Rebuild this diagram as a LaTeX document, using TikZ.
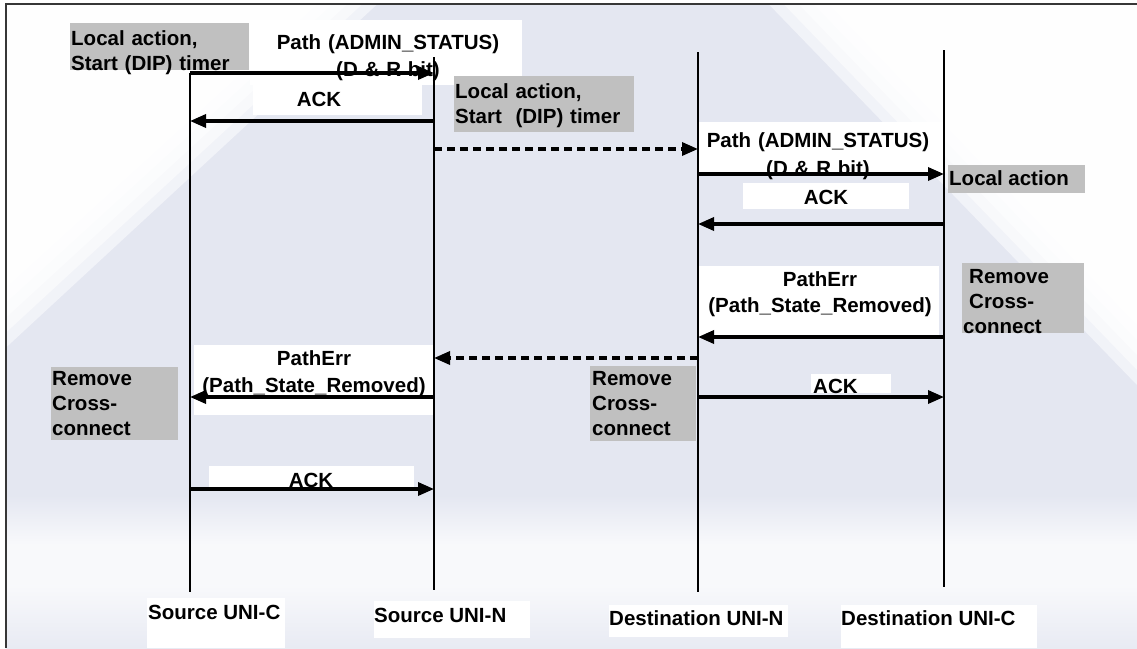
\documentclass[tikz,border=0pt]{standalone}
\usepackage{fontspec}
\setmainfont{Liberation Sans}
\usetikzlibrary{arrows.meta}
\definecolor{lav}{RGB}{228,231,241}
\definecolor{boxgray}{RGB}{192,192,192}
\definecolor{framegray}{RGB}{55,55,55}

\begin{document}
\begin{tikzpicture}[x=1pt,y=-1pt,
  lbl/.style={font=\bfseries\fontsize{20.5}{25}\selectfont, inner sep=0pt, text=black},
  graybox/.style={fill=boxgray, draw=none, inner sep=0pt, anchor=north west},
  whitebox/.style={fill=white, draw=none, inner sep=0pt, anchor=north west},
  lifeline/.style={line width=2pt, black},
  msg/.style={line width=3.3pt, black, -{Triangle[length=16pt,width=13pt]}},
  dmsg/.style={msg, dash pattern=on 8pt off 5pt},
  frameline/.style={line width=2pt, framegray},
]
\useasboundingbox (0,0) rectangle (1137,648);

% ---- background wash ----
\fill[white] (0,0) rectangle (1137,648);
\fill[lav] (5.5,3.5) rectangle (1137,648);
\foreach \d in {-30,-15,0,15,30}{
  \fill[white, opacity=0.5] (5.5,3.5) -- (348+\d,3.5) -- (5.5,318+\d) -- cycle;
  \fill[white, opacity=0.5] (798-\d,3.5) -- (1137,3.5) -- (1137,355+\d) -- cycle;
}
\shade[top color=lav, bottom color=white!75!lav] (5.5,495) rectangle (1137,545);
\fill[white!75!lav] (5.5,545) rectangle (1137,585);
\shade[top color=white!75!lav, bottom color=lav!85!white] (5.5,585) rectangle (1137,648);

% ---- frame ----
\draw[frameline] (1137,3.5) -- (5.5,3.5) -- (5.5,648);

% ---- label backgrounds ----
\node[whitebox, minimum width=272pt, minimum height=65pt] (wpath1) at (250,20) {};
\node[whitebox, minimum width=169pt, minimum height=31pt] (wack1) at (253,84) {};
\node[whitebox, minimum width=245pt, minimum height=52pt] (wpath2) at (698,122) {};
\node[whitebox, minimum width=166pt, minimum height=26pt] (wack2) at (743,183) {};
\node[whitebox, minimum width=241pt, minimum height=71pt] (werr1) at (698,266) {};
\node[whitebox, minimum width=239pt, minimum height=70pt] (werr2) at (194,345) {};
\node[whitebox, minimum width=80pt, minimum height=19pt] (wack3) at (811,374) {};
\node[whitebox, minimum width=205pt, minimum height=23pt] (wack4) at (209,466) {};

\node[whitebox, minimum width=138pt, minimum height=50pt] (wsc) at (147,598) {};
\node[whitebox, minimum width=156pt, minimum height=37pt] (wsn) at (374,601) {};
\node[whitebox, minimum width=179pt, minimum height=32pt] (wdn) at (609,605) {};
\node[whitebox, minimum width=196pt, minimum height=43pt] (wdc) at (841,605) {};

\node[graybox, minimum width=179pt, minimum height=47pt] (g1) at (70,23) {};
\node[graybox, minimum width=180pt, minimum height=56pt] (g2) at (454,76) {};
\node[graybox, minimum width=137pt, minimum height=28pt] (g3) at (948,165) {};
\node[graybox, minimum width=122pt, minimum height=70pt] (g4) at (962,263) {};
\node[graybox, minimum width=127pt, minimum height=73pt] (g5) at (51,367) {};
\node[graybox, minimum width=106pt, minimum height=75pt] (g6) at (590,366) {};

% ---- lifelines ----
\coordinate (scT) at (190,73);  \coordinate (scB) at (190,592);
\coordinate (snT) at (434,57);  \coordinate (snB) at (434,590);
\coordinate (dnT) at (698,52);  \coordinate (dnB) at (698,592);
\coordinate (dcT) at (944,50);  \coordinate (dcB) at (944,587);
\draw[lifeline] (scT) -- (scB);
\draw[lifeline] (snT) -- (snB);
\draw[lifeline] (dnT) -- (dnB);
\draw[lifeline] (dcT) -- (dcB);

% ---- texts ----
\node[lbl, anchor=base west, text width=178pt, align=left] (t1) at (71,45)
  {Local action,\\Start (DIP) timer};
\node[lbl, anchor=base, text width=260pt, align=center, font=\bfseries\fontsize{20.5}{27}\selectfont] (t2) at (388,49)
  {Path (ADMIN\_STATUS)\\(D \& R bit)};
\node[lbl, anchor=base] (t3) at (319,106) {ACK};
\node[lbl, anchor=base west, text width=180pt, align=left] (t4) at (455,98)
  {Local action,\\Start\ \ (DIP) timer};
\node[lbl, anchor=base, text width=240pt, align=center, font=\bfseries\fontsize{20.5}{28}\selectfont] (t5) at (818,147)
  {Path (ADMIN\_STATUS)\\(D \& R bit)};
\node[lbl, anchor=base west] (t6) at (949,185) {Local action};
\node[lbl, anchor=base] (t7) at (826,204) {ACK};
\node[lbl, anchor=base west, text width=122pt, align=left] (t8) at (963,283)
  {\hspace*{6pt}Remove\\\hspace*{6pt}Cross-\\connect};
\node[lbl, anchor=base, text width=240pt, align=center, font=\bfseries\fontsize{20.5}{26}\selectfont] (t9) at (820,286)
  {PathErr\\(Path\_State\_Removed)};
\node[lbl, anchor=base, text width=240pt, align=center, font=\bfseries\fontsize{20.5}{27}\selectfont] (t10) at (314,365)
  {PathErr\\(Path\_State\_Removed)};
\node[lbl, anchor=base west, text width=127pt, align=left] (t11) at (52,385)
  {Remove\\Cross-\\connect};
\node[lbl, anchor=base west, text width=106pt, align=left] (t12) at (592,385)
  {Remove\\Cross-\\connect};
\node[lbl, anchor=base west] (t13) at (813,393) {ACK};
\node[lbl, anchor=base] (t14) at (311,487) {ACK};

\node[lbl, anchor=base west] (lsc) at (148,619) {Source UNI-C};
\node[lbl, anchor=base west] (lsn) at (374,622) {Source UNI-N};
\node[lbl, anchor=base west] (ldn) at (609,625) {Destination UNI-N};
\node[lbl, anchor=base west] (ldc) at (841,625) {Destination UNI-C};

% ---- messages ----
\draw[msg]  (scT |- 0,73)  -- (snT |- 0,73);
\draw[msg]  (snT |- 0,121) -- (scT |- 0,121);
\draw[dmsg] (snT |- 0,149) -- (dnT |- 0,149);
\draw[msg]  (dnT |- 0,174) -- (dcT |- 0,174);
\draw[msg]  (dcT |- 0,224) -- (dnT |- 0,224);
\draw[msg]  (dcT |- 0,337) -- (dnT |- 0,337);
\draw[dmsg] (dnT |- 0,358) -- (snT |- 0,358);
\draw[msg]  (snT |- 0,397) -- (scT |- 0,397);
\draw[msg]  (dnT |- 0,397) -- (dcT |- 0,397);
\draw[msg]  (scT |- 0,489) -- (snT |- 0,489);
\end{tikzpicture}
\end{document}
